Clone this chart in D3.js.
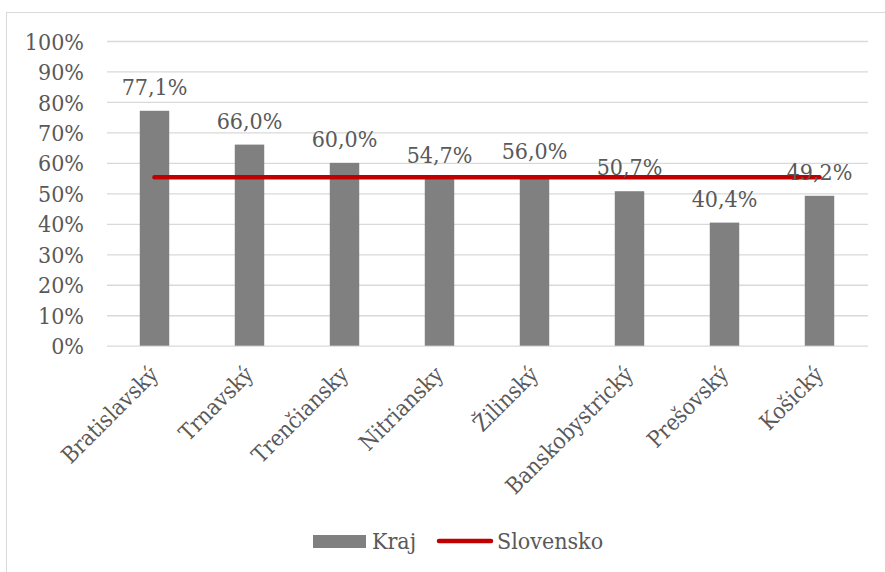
<!DOCTYPE html>
<html>
<head>
<meta charset="utf-8">
<script src="https://cdn.jsdelivr.net/npm/d3@7"></script>
<style>
  body { margin: 0; background: #fff; }
  text { font-family: "DejaVu Serif Condensed", "DejaVu Serif", serif; font-stretch: condensed; fill: #595959; }
</style>
</head>
<body>
<svg id="chart" width="885" height="572"></svg>
<script>
// data
var regions = ["Bratislavský", "Trnavský", "Trenčiansky", "Nitriansky", "Žilinský", "Banskobystrický", "Prešovský", "Košický"];
var kraj = [77.1, 66.0, 60.0, 54.7, 56.0, 50.7, 40.4, 49.2];
var slovensko = 55.3;
var yTicks = [0, 10, 20, 30, 40, 50, 60, 70, 80, 90, 100];

var svg = d3.select("#chart");
var fs = 23;

// chart frame (cropped on right and bottom)
svg.append("rect")
  .attr("x", 6.5).attr("y", 12.5)
  .attr("width", 900).attr("height", 600)
  .attr("fill", "none").attr("stroke", "#d9d9d9");

var x = d3.scaleBand().domain(regions).range([107, 867]).paddingInner(0.69).paddingOuter(0.345);
var y = d3.scaleLinear().domain([0, 100]).range([345.7, 41]);

// gridlines + y labels
var yAxis = svg.append("g").attr("transform", "translate(107,0)")
  .call(d3.axisLeft(y).tickValues(yTicks).tickSize(-761).tickPadding(23).tickFormat(function (d) { return d + "%"; }));
yAxis.select(".domain").remove();
yAxis.selectAll(".tick line").attr("stroke", "#d9d9d9").attr("stroke-width", 1.3);
yAxis.selectAll(".tick text").attr("font-size", fs).attr("fill", "#595959")
  .attr("font-family", null).attr("dy", "0.35em");

// bars
svg.append("g").selectAll("rect")
  .data(kraj)
  .enter()
  .append("rect")
  .attr("x", function (d, i) { return x(regions[i]); })
  .attr("y", function (d) { return y(d); })
  .attr("width", x.bandwidth())
  .attr("height", function (d) { return y(0) - y(d); })
  .attr("fill", "#808080");

// Slovensko line
var xc = function (r) { return x(r) + x.bandwidth() / 2; };
svg.append("line")
  .attr("x1", xc(regions[0])).attr("x2", xc(regions[regions.length - 1]))
  .attr("y1", y(slovensko)).attr("y2", y(slovensko))
  .attr("stroke", "#c00000").attr("stroke-width", 4.5).attr("stroke-linecap", "round");

// value labels
svg.append("g").selectAll("text")
  .data(kraj)
  .enter()
  .append("text")
  .attr("x", function (d, i) { return xc(regions[i]); })
  .attr("y", function (d) { return y(d) - 16; })
  .attr("text-anchor", "middle")
  .attr("font-size", fs)
  .text(function (d) { return d.toFixed(1).replace(".", ",") + "%"; });

// category labels
svg.append("g").selectAll("text")
  .data(regions)
  .enter()
  .append("text")
  .attr("transform", function (d) { return "translate(" + (xc(d) + 5) + ",376) rotate(-45)"; })
  .attr("text-anchor", "end")
  .attr("font-size", 22.5)
  .text(function (d) { return d; });

// legend
var lg = svg.append("g");
lg.append("rect").attr("x", 313).attr("y", 535).attr("width", 53).attr("height", 13).attr("fill", "#808080");
lg.append("text").attr("x", 372).attr("y", 549).attr("font-size", fs).text("Kraj");
lg.append("line").attr("x1", 439).attr("x2", 491).attr("y1", 541).attr("y2", 541)
  .attr("stroke", "#c00000").attr("stroke-width", 4.5).attr("stroke-linecap", "round");
lg.append("text").attr("x", 497).attr("y", 549).attr("font-size", fs).text("Slovensko");
</script>
</body>
</html>
